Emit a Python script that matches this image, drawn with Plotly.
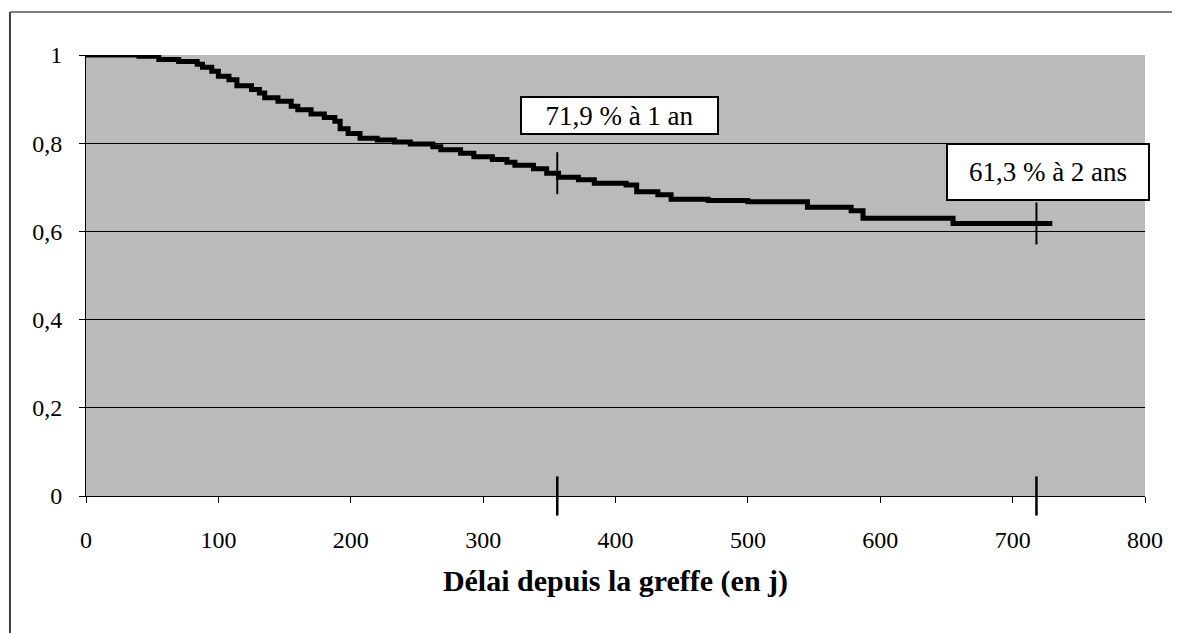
import numpy as np
import plotly.graph_objects as go

# Kaplan-Meier step curve (days, survival)
times = [0, 40, 55, 70, 84, 88, 95, 100, 108, 114, 125, 131, 135, 145, 155, 160, 170,
         180, 188, 192, 198, 207, 220, 233, 245, 262, 268, 283, 293, 307, 318, 324,
         338, 348, 357, 372, 384, 408, 416, 432, 442, 470, 500, 545, 578, 587, 655, 730]
survival = [1.0, 0.997, 0.99, 0.985, 0.979, 0.972, 0.963, 0.952, 0.944, 0.93, 0.922,
            0.914, 0.903, 0.895, 0.884, 0.876, 0.866, 0.858, 0.85, 0.833, 0.822, 0.811,
            0.807, 0.803, 0.798, 0.792, 0.785, 0.777, 0.769, 0.763, 0.757, 0.75, 0.742,
            0.732, 0.723, 0.717, 0.709, 0.705, 0.69, 0.683, 0.673, 0.67, 0.667, 0.655,
            0.647, 0.63, 0.618, 0.618]

mark_times = [356, 718]
x_ticks = [0, 100, 200, 300, 400, 500, 600, 700, 800]
y_ticks = [0, 0.2, 0.4, 0.6, 0.8, 1]
y_tick_labels = ["0", "0,2", "0,4", "0,6", "0,8", "1"]
labels = ["71,9 % à 1 an", "61,3 % à 2 ans"]
label_x = [403, 727]
label_y = [0.863, 0.735]
label_w = [193, 198]
label_h = [33, 52]

idx = np.searchsorted(np.array(times), np.array(mark_times), side="right") - 1
mark_y = [survival[i] for i in idx]

FONT = "Liberation Serif, Times New Roman, serif"

fig = go.Figure()
fig.add_trace(go.Scatter(x=times, y=survival, mode="lines", line=dict(color="black", width=5, shape="hv"),
                         showlegend=False, hoverinfo="skip"))
fig.add_trace(go.Scatter(x=mark_times, y=mark_y, mode="markers",
                         marker=dict(symbol="line-ns", size=30, line=dict(color="black", width=2)),
                         showlegend=False, hoverinfo="skip"))
fig.add_trace(go.Scatter(x=mark_times, y=[0] * len(mark_times), mode="markers", cliponaxis=False,
                         marker=dict(symbol="line-ns", size=28, line=dict(color="black", width=2.5)),
                         showlegend=False, hoverinfo="skip"))

for t, x, y, w, h in zip(labels, label_x, label_y, label_w, label_h):
    fig.add_annotation(x=x, y=y, text=t, showarrow=False, font=dict(family=FONT, size=27, color="black"),
                       bgcolor="white", bordercolor="black", borderwidth=2, borderpad=1,
                       width=w, height=h, align="center", valign="middle")

# outer frame (left and top edges)
fig.add_shape(type="line", xref="paper", yref="paper", x0=-0.0718, x1=-0.0718, y0=1.0975, y1=-0.35,
              line=dict(color="black", width=1.5))
fig.add_shape(type="line", xref="paper", yref="paper", x0=-0.0718, x1=1.05, y0=1.0975, y1=1.0975,
              line=dict(color="#555", width=1.5))

fig.update_layout(
    width=1180, height=633,
    margin=dict(l=78, r=43, t=47, b=145),
    paper_bgcolor="white", plot_bgcolor="#bababa",
    font=dict(family=FONT, size=24, color="black"),
    xaxis=dict(range=[0, 800], tickvals=x_ticks, ticks="outside", ticklen=6, tickcolor="black",
               showline=True, linecolor="black", linewidth=1, showgrid=False, zeroline=False,
               ticklabelstandoff=16, tickfont=dict(size=24),
               title=dict(text="<b>Délai depuis la greffe (en j)</b>", font=dict(size=30, family=FONT),
                          standoff=18)),
    yaxis=dict(range=[0, 1], tickvals=y_ticks, ticktext=y_tick_labels, ticks="outside", ticklen=6,
               tickcolor="black", showline=True, linecolor="black", linewidth=1, tickfont=dict(size=24),
               showgrid=True, gridcolor="black", gridwidth=1, zeroline=False, ticklabelstandoff=12),
)

fig.write_html("out.html")
